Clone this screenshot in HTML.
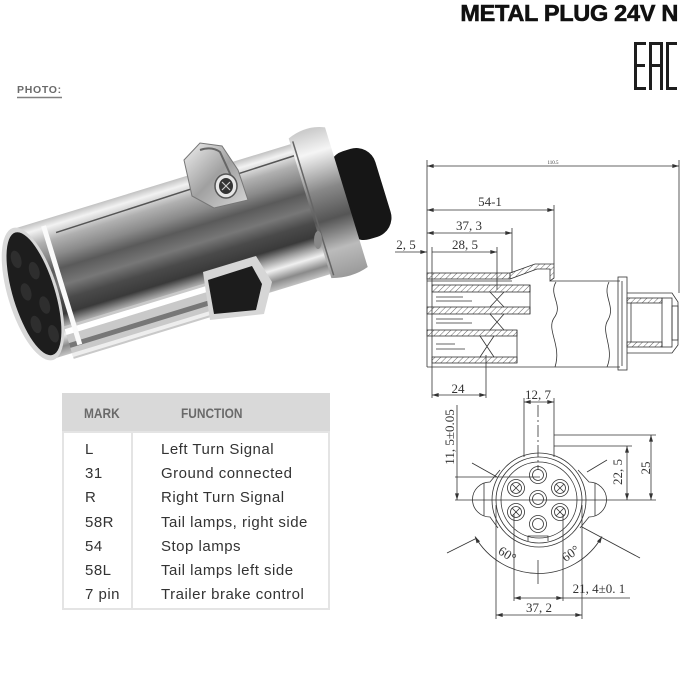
<!DOCTYPE html>
<html><head><meta charset="utf-8"><style>
html,body{margin:0;padding:0;background:#fff;}
body{width:700px;height:700px;position:relative;overflow:hidden;font-family:"Liberation Sans",sans-serif;}
.abs{position:absolute;white-space:nowrap;}
.title{right:22px;top:2px;font-size:23.5px;line-height:23.5px;font-weight:bold;color:#111;letter-spacing:-0.3px;-webkit-text-stroke:0.6px #111;}
.photo{left:17px;top:84px;font-size:10.5px;font-weight:bold;color:#6a6a6a;letter-spacing:0.7px;line-height:12px;}
.hdr{font-size:14px;font-weight:bold;color:#6a6a6a;transform:scaleX(0.85);transform-origin:left center;line-height:16px;}
.row{font-size:15px;color:#333;line-height:24.2px;letter-spacing:0.5px;}
</style></head><body>

<svg class="abs" style="left:0;top:0" width="700" height="700" viewBox="0 0 700 700">
<defs>
<marker id="ar" viewBox="0 0 10 6" refX="10" refY="3" markerWidth="7" markerHeight="4" orient="auto-start-reverse" markerUnits="userSpaceOnUse"><path d="M0,0 L10,3 L0,6 z" fill="#333"/></marker>
<pattern id="h" width="4" height="4" patternUnits="userSpaceOnUse" patternTransform="rotate(45)"><line x1="0" y1="0" x2="0" y2="4" stroke="#555" stroke-width="0.9"/></pattern>
<linearGradient id="bg" gradientUnits="userSpaceOnUse" x1="0" y1="-70" x2="0" y2="70">
<stop offset="0" stop-color="#b5b5b5"/>
<stop offset="0.07" stop-color="#f2f2f2"/>
<stop offset="0.17" stop-color="#b0b0b0"/>
<stop offset="0.28" stop-color="#8a8a8a"/>
<stop offset="0.38" stop-color="#5a5a5a"/>
<stop offset="0.5" stop-color="#777"/>
<stop offset="0.6" stop-color="#4a4a4a"/>
<stop offset="0.7" stop-color="#3a3a3a"/>
<stop offset="0.77" stop-color="#9a9a9a"/>
<stop offset="0.84" stop-color="#f0f0f0"/>
<stop offset="0.92" stop-color="#8a8a8a"/>
<stop offset="1" stop-color="#d0d0d0"/>
</linearGradient>
<linearGradient id="cg" gradientUnits="userSpaceOnUse" x1="0" y1="-76" x2="0" y2="76">
<stop offset="0" stop-color="#ccc"/>
<stop offset="0.15" stop-color="#f5f5f5"/>
<stop offset="0.4" stop-color="#888"/>
<stop offset="0.6" stop-color="#555"/>
<stop offset="0.8" stop-color="#bbb"/>
<stop offset="1" stop-color="#999"/>
</linearGradient>
<linearGradient id="clg" x1="0" y1="0" x2="1" y2="1">
<stop offset="0" stop-color="#f0f0f0"/>
<stop offset="0.5" stop-color="#a0a0a0"/>
<stop offset="1" stop-color="#d8d8d8"/>
</linearGradient>
</defs>

<!-- ============ PHOTO ============ -->
<g transform="translate(33,294) rotate(-17)">
  <!-- black cap -->
  <rect x="318" y="-46" width="48" height="92" rx="20" fill="#161616"/>
  <!-- body -->
  <rect x="0" y="-68" width="315" height="136" fill="url(#bg)"/>
  <!-- top rail line -->
  <line x1="40" y1="-52" x2="300" y2="-56" stroke="#555" stroke-width="1.5"/>
  <!-- lower rail -->
  <path d="M20,40 L205,40 L205,74 L20,74 Z" fill="#c9c9c9"/>
  <path d="M20,46 L205,46" stroke="#fff" stroke-width="6"/>
  <path d="M20,60 L205,60" stroke="#777" stroke-width="5"/>
  <path d="M20,70 L205,70" stroke="#eee" stroke-width="4"/>
  <!-- rear collar -->
  <path d="M290,-74 Q310,-82 328,-74 L328,72 Q310,78 290,72 Z" fill="url(#cg)"/>
  <line x1="293" y1="-70" x2="293" y2="70" stroke="#666" stroke-width="1.5"/>
  <!-- face -->
  <ellipse cx="0" cy="0" rx="25" ry="69" fill="#d8d8d8"/>
  <ellipse cx="1" cy="0" rx="21" ry="64" fill="#1d1d1d"/>
  <g fill="#2e2e2e">
    <ellipse cx="-6" cy="-38" rx="5" ry="9"/>
    <ellipse cx="8" cy="-22" rx="5" ry="9"/>
    <ellipse cx="-6" cy="-4" rx="5" ry="9"/>
    <ellipse cx="8" cy="14" rx="5" ry="9"/>
    <ellipse cx="-6" cy="30" rx="5" ry="9"/>
    <ellipse cx="8" cy="44" rx="5" ry="9"/>
  </g>
  <line x1="30" y1="-62" x2="30" y2="62" stroke="#fafafa" stroke-width="5"/>
</g>
<!-- top clamp -->
<path d="M184,160 L200,143 L222,146 L238,170 L248,200 L214,208 L192,196 Z" fill="url(#clg)" stroke="#777" stroke-width="1"/>
<path d="M200,150 Q212,146 220,152 L232,178" fill="none" stroke="#666" stroke-width="2"/>
<ellipse cx="226" cy="186" rx="11" ry="12" fill="#e6e6e6" stroke="#555" stroke-width="1.5"/>
<ellipse cx="226" cy="186" rx="7" ry="8" fill="#333"/>
<path d="M222,182 L230,190 M230,182 L222,190" stroke="#ccc" stroke-width="1.2"/>
<!-- bottom clip -->
<path d="M203,272 L256,256 L272,282 L264,314 L210,320 Z" fill="#d6d6d6"/>
<path d="M208,280 L252,266 L262,284 L256,310 L214,314 Z" fill="#1c1c1c"/>
<!-- collar mark -->
<ellipse cx="318" cy="240" rx="4" ry="9" fill="#888"/>

<!-- ============ SIDE DRAWING ============ -->
<g stroke="#333" stroke-width="0.8" fill="none">
  <line x1="427" y1="166" x2="679" y2="166" marker-start="url(#ar)" marker-end="url(#ar)"/>
  <line x1="427" y1="160" x2="427" y2="273"/>
  <line x1="679" y1="160" x2="679" y2="293"/>
  <line x1="427" y1="210" x2="554" y2="210" marker-start="url(#ar)" marker-end="url(#ar)"/>
  <line x1="554" y1="205" x2="554" y2="264"/>
  <line x1="427" y1="233" x2="512" y2="233" marker-start="url(#ar)" marker-end="url(#ar)"/>
  <line x1="512" y1="228" x2="512" y2="273"/>
  <line x1="432" y1="252" x2="497" y2="252" marker-end="url(#ar)"/>
  <line x1="395" y1="252" x2="427" y2="252" marker-end="url(#ar)"/>
  <line x1="432" y1="247" x2="432" y2="398"/>
  <line x1="497" y1="247" x2="497" y2="290"/>
  <line x1="432" y1="395" x2="486" y2="395" marker-start="url(#ar)" marker-end="url(#ar)"/>
  <line x1="486" y1="355" x2="486" y2="398"/>

  <rect x="427" y="273" width="83" height="6" fill="url(#h)"/>
  <path d="M510,273 L535,264 L554,264 L554,278 L550,281 L550,269 L537,269 L510,279 Z" fill="url(#h)"/>
  <line x1="427" y1="273" x2="427" y2="367"/>
  <path d="M550,281 L620,281"/>
  <line x1="427" y1="367" x2="620" y2="367"/>
  <line x1="427" y1="281" x2="512" y2="281"/>
  <rect x="432" y="285" width="98" height="7" fill="url(#h)"/>
  <rect x="427" y="307" width="103" height="7" fill="url(#h)"/>
  <rect x="427" y="330" width="90" height="6" fill="url(#h)"/>
  <rect x="432" y="357" width="85" height="6" fill="url(#h)"/>
  <line x1="530" y1="285" x2="530" y2="314"/>
  <line x1="517" y1="330" x2="517" y2="363"/>
  <line x1="436" y1="297" x2="463" y2="297"/>
  <line x1="436" y1="301" x2="472" y2="301"/>
  <line x1="436" y1="319" x2="463" y2="319"/>
  <line x1="436" y1="323" x2="472" y2="323"/>
  <line x1="436" y1="344" x2="455" y2="344"/>
  <line x1="436" y1="349" x2="465" y2="349"/>
  <path d="M490,292 L504,307 M504,292 L490,307"/>
  <path d="M490,314 L504,330 M504,314 L490,330"/>
  <path d="M480,336 L494,357 M494,336 L480,357"/>
  <path d="M556,282 C548,295 564,305 554,318 C546,330 562,345 555,367"/>
  <path d="M609,282 C602,296 616,306 608,320 C600,332 615,348 607,367"/>
  <rect x="618" y="277" width="9" height="93"/>
  <line x1="622" y1="281" x2="622" y2="366"/>
  <path d="M627,293 L672,293 L678,302 L678,345 L672,353 L627,353"/>
  <rect x="627" y="298" width="35" height="5" fill="url(#h)"/>
  <rect x="627" y="342" width="35" height="5" fill="url(#h)"/>
  <line x1="631" y1="303" x2="631" y2="342"/>
  <rect x="662" y="298" width="10" height="49"/>
  <rect x="672" y="306" width="6" height="34"/>
</g>
<g font-family="'Liberation Serif',serif" fill="#333" font-size="13" text-anchor="middle">
  <text x="553" y="164" font-size="5">110.5</text>
  <text x="490" y="206">54-1</text>
  <text x="469" y="230">37, 3</text>
  <text x="465" y="249">28, 5</text>
  <text x="406" y="249">2, 5</text>
  <text x="458" y="393">24</text>
</g>

<!-- ============ FRONT DRAWING ============ -->
<g stroke="#333" stroke-width="0.8" fill="none">
  <line x1="524" y1="398" x2="524" y2="457"/>
  <line x1="554" y1="398" x2="554" y2="457"/>
  <line x1="524" y1="402" x2="554" y2="402" marker-start="url(#ar)" marker-end="url(#ar)"/>
  <line x1="538" y1="405" x2="538" y2="470" stroke-dasharray="12,3,2,3"/>
  <line x1="554" y1="435" x2="656" y2="435"/>
  <line x1="554" y1="446" x2="632" y2="446"/>
  <line x1="651" y1="435" x2="651" y2="500" marker-start="url(#ar)" marker-end="url(#ar)"/>
  <line x1="627" y1="446" x2="627" y2="500" marker-start="url(#ar)" marker-end="url(#ar)"/>
  <line x1="455" y1="500" x2="656" y2="500"/>
  <line x1="457" y1="405" x2="457" y2="500" marker-end="url(#ar)"/>
  <line x1="455" y1="477" x2="540" y2="477"/>
  <path d="M500,470 L490,482 A17.5,17.5 0 0 0 490,517 L498,528"/>
  <path d="M578,470 L589,482 A17.5,17.5 0 0 1 589,517 L580,528"/>
  <line x1="484" y1="483" x2="484" y2="516"/>
  <line x1="595" y1="483" x2="595" y2="516"/>
  <circle cx="539" cy="500" r="47"/>
  <circle cx="539" cy="500" r="43"/>
  <circle cx="539" cy="500" r="38"/>
  <g>
    <circle cx="538" cy="475" r="8.5"/><circle cx="538" cy="475" r="5.5"/>
    <circle cx="538" cy="499" r="8.5"/><circle cx="538" cy="499" r="5.5"/>
    <circle cx="538" cy="524" r="8.5"/><circle cx="538" cy="524" r="5.5"/>
    <circle cx="516" cy="488" r="8.5"/><circle cx="516" cy="488" r="5.5"/>
    <circle cx="560" cy="488" r="8.5"/><circle cx="560" cy="488" r="5.5"/>
    <circle cx="516" cy="512" r="8.5"/><circle cx="516" cy="512" r="5.5"/>
    <circle cx="560" cy="512" r="8.5"/><circle cx="560" cy="512" r="5.5"/>
    <path d="M512,484 L520,492 M520,484 L512,492 M556,484 L564,492 M564,484 L556,492 M512,508 L520,516 M520,508 L512,516 M556,508 L564,516 M564,508 L556,516"/>
  </g>
  <path d="M528,541 L528,536 L548,536 L548,541"/>
  <line x1="497" y1="477" x2="472" y2="463"/>
  <line x1="587" y1="472" x2="607" y2="460"/>
  <line x1="477" y1="538" x2="447" y2="553"/>
  <line x1="582" y1="527" x2="640" y2="558"/>
  <path d="M475,536.5 A73,73 0 0 0 602,536.5" marker-start="url(#ar)" marker-end="url(#ar)"/>
  <line x1="538" y1="560" x2="538" y2="584"/>
  <line x1="496" y1="505" x2="496" y2="619"/>
  <line x1="582" y1="505" x2="582" y2="619"/>
  <line x1="514" y1="514" x2="514" y2="601"/>
  <line x1="563" y1="514" x2="563" y2="601"/>
  <line x1="514" y1="598" x2="563" y2="598" marker-start="url(#ar)" marker-end="url(#ar)"/>
  <line x1="563" y1="598" x2="630" y2="598"/>
  <line x1="496" y1="615" x2="582" y2="615" marker-start="url(#ar)" marker-end="url(#ar)"/>
</g>
<g font-family="'Liberation Serif',serif" fill="#333" font-size="13" text-anchor="middle">
  <text x="538" y="399">12, 7</text>
  <text transform="translate(454,437) rotate(-90)">11, 5±0.05</text>
  <text transform="translate(622,472) rotate(-90)">22, 5</text>
  <text transform="translate(650,468) rotate(-90)">25</text>
  <text transform="translate(505,558) rotate(32)">60°</text>
  <text transform="translate(573,557) rotate(-35)">60°</text>
  <text x="539" y="612">37, 2</text>
  <text x="599" y="593">21, 4±0. 1</text>
</g>

<!-- EAC logo -->
<g fill="#1e1e1e">
  <rect x="634" y="42" width="3" height="48"/>
  <rect x="634" y="42" width="12" height="3"/>
  <rect x="634" y="64" width="11" height="3"/>
  <rect x="634" y="87" width="12" height="3"/>
  <rect x="649" y="42" width="3" height="48"/>
  <rect x="660" y="42" width="3" height="48"/>
  <rect x="649" y="42" width="14" height="3"/>
  <rect x="649" y="64" width="14" height="3"/>
  <rect x="666" y="42" width="3" height="48"/>
  <rect x="666" y="42" width="11" height="3"/>
  <rect x="666" y="87" width="11" height="3"/>
</g>

<!-- table -->
<rect x="62" y="393" width="268" height="39" fill="#d9d9d9"/>
<rect x="63" y="432" width="266" height="177" fill="none" stroke="#e4e4e4" stroke-width="2"/>
<line x1="132" y1="432" x2="132" y2="609" stroke="#e4e4e4" stroke-width="2"/>
<line x1="17" y1="97.5" x2="62" y2="97.5" stroke="#808080" stroke-width="1.4"/>
</svg>

<div class="abs title">METAL PLUG 24V N</div>
<div class="abs photo">PHOTO:</div>

<div class="abs hdr" style="left:84px;top:405px;">MARK</div>
<div class="abs hdr" style="left:181px;top:405px;">FUNCTION</div>

<div class="abs row" style="left:85px;top:438px;">L<br>31<br>R<br>58R<br>54<br>58L<br>7 pin</div>
<div class="abs row" style="left:161px;top:438px;">Left Turn Signal<br>Ground connected<br>Right Turn Signal<br>Tail lamps, right side<br>Stop lamps<br>Tail lamps left side<br>Trailer brake control</div>

</body></html>
